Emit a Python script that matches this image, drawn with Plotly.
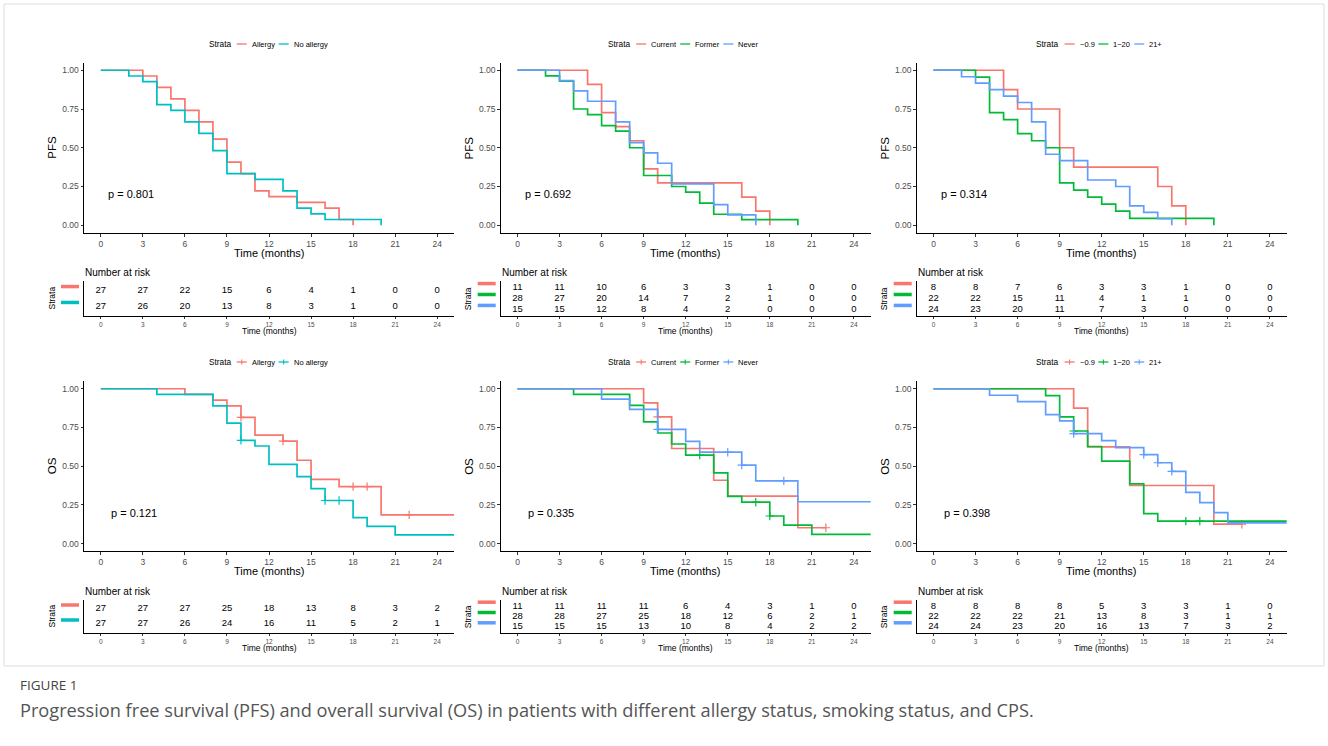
import plotly.graph_objects as go

W, H = 1328, 746
FONT = "Liberation Sans, Arial, Helvetica, sans-serif"
CAP_FONT = "Open Sans, Noto Sans, Liberation Sans, sans-serif"
RED, CYAN, GREEN, BLUE = "#F8766D", "#00BFC4", "#00BA38", "#619CFF"

time_ticks = [0, 3, 6, 9, 12, 15, 18, 21, 24]
surv_ticks = [0, 0.25, 0.5, 0.75, 1.0]
surv_tick_labels = ["0.00", "0.25", "0.50", "0.75", "1.00"]

# ---------------- PFS by allergy ----------------
pfs_allergy_t = [0, 3, 4, 5, 6, 7, 8, 9, 10, 11, 12, 14, 16, 17, 18]
pfs_allergy_s = [1, 0.963, 0.889, 0.815, 0.741, 0.667, 0.556, 0.407, 0.333, 0.222, 0.185, 0.148, 0.111, 0.037, 0]
pfs_noallergy_t = [0, 2, 3, 4, 5, 6, 7, 8, 9, 11, 13, 14, 15, 16, 20]
pfs_noallergy_s = [1, 0.963, 0.926, 0.778, 0.741, 0.667, 0.593, 0.481, 0.333, 0.296, 0.222, 0.111, 0.074, 0.037, 0]
risk_pfs_allergy = [[27, 27, 22, 15, 6, 4, 1, 0, 0], [27, 26, 20, 13, 8, 3, 1, 0, 0]]

# ---------------- PFS by smoking ----------------
pfs_current_t = [0, 5, 6, 7, 8, 9, 10, 16, 17, 18]
pfs_current_s = [1, 0.909, 0.727, 0.636, 0.545, 0.364, 0.273, 0.182, 0.091, 0]
pfs_former_t = [0, 2, 3, 4, 5, 6, 7, 8, 9, 11, 12, 13, 14, 16, 20]
pfs_former_s = [1, 0.964, 0.929, 0.75, 0.714, 0.643, 0.607, 0.5, 0.321, 0.25, 0.214, 0.143, 0.071, 0.036, 0]
pfs_never_t = [0, 3, 4, 5, 7, 8, 9, 10, 11, 14, 15, 17]
pfs_never_s = [1, 0.933, 0.867, 0.8, 0.667, 0.533, 0.467, 0.4, 0.267, 0.133, 0.067, 0]
risk_pfs_smoking = [[11, 11, 10, 6, 3, 3, 1, 0, 0], [28, 27, 20, 14, 7, 2, 1, 0, 0], [15, 15, 12, 8, 4, 2, 0, 0, 0]]

# ---------------- PFS by CPS ----------------
pfs_cps1_t = [0, 5, 6, 9, 10, 16, 17, 18]
pfs_cps1_s = [1, 0.875, 0.75, 0.5, 0.375, 0.25, 0.125, 0]
pfs_cps2_t = [0, 3, 4, 5, 6, 7, 8, 9, 10, 11, 12, 13, 14, 20]
pfs_cps2_s = [1, 0.955, 0.727, 0.682, 0.591, 0.545, 0.5, 0.273, 0.227, 0.182, 0.136, 0.091, 0.045, 0]
pfs_cps3_t = [0, 2, 3, 4, 5, 6, 7, 8, 9, 11, 13, 14, 15, 16, 17]
pfs_cps3_s = [1, 0.958, 0.917, 0.875, 0.833, 0.792, 0.667, 0.458, 0.417, 0.292, 0.25, 0.125, 0.083, 0.042, 0]
risk_pfs_cps = [[8, 8, 7, 6, 3, 3, 1, 0, 0], [22, 22, 15, 11, 4, 1, 1, 0, 0], [24, 23, 20, 11, 7, 3, 0, 0, 0]]

# ---------------- OS by allergy ----------------
os_allergy_t = [0, 6, 8, 9, 10, 11, 13, 14, 15, 17, 20, 26]
os_allergy_s = [1, 0.963, 0.926, 0.889, 0.815, 0.70, 0.662, 0.538, 0.415, 0.368, 0.185, 0.185]
os_allergy_ct = [10, 13, 18, 19, 22]
os_allergy_cs = [0.815, 0.662, 0.368, 0.368, 0.185]
os_noallergy_t = [0, 4, 8, 9, 10, 11, 12, 14, 15, 16, 18, 19, 21, 26]
os_noallergy_s = [1, 0.963, 0.889, 0.778, 0.667, 0.630, 0.511, 0.432, 0.355, 0.278, 0.167, 0.111, 0.056, 0.056]
os_noallergy_ct = [10, 16, 17]
os_noallergy_cs = [0.667, 0.278, 0.278]
risk_os_allergy = [[27, 27, 27, 25, 18, 13, 8, 3, 2], [27, 27, 26, 24, 16, 11, 5, 2, 1]]

# ---------------- OS by smoking ----------------
os_current_t = [0, 9, 10, 11, 14, 15, 20, 22]
os_current_s = [1, 0.909, 0.818, 0.614, 0.409, 0.307, 0.102, 0.102]
os_current_ct = [10, 22]
os_current_cs = [0.818, 0.102]
os_former_t = [0, 4, 8, 9, 10, 11, 12, 14, 15, 16, 18, 19, 21, 26]
os_former_s = [1, 0.964, 0.893, 0.786, 0.714, 0.643, 0.571, 0.457, 0.305, 0.267, 0.178, 0.119, 0.059, 0.059]
os_former_ct = [13, 17, 18]
os_former_cs = [0.571, 0.267, 0.178]
os_never_t = [0, 6, 8, 10, 12, 13, 16, 17, 20, 26]
os_never_s = [1, 0.933, 0.867, 0.738, 0.66, 0.59, 0.507, 0.405, 0.27, 0.27]
os_never_ct = [10, 15, 16, 19]
os_never_cs = [0.738, 0.59, 0.507, 0.405]
risk_os_smoking = [[11, 11, 11, 11, 6, 4, 3, 1, 0], [28, 28, 27, 25, 18, 12, 6, 2, 1], [15, 15, 15, 13, 10, 8, 4, 2, 2]]

# ---------------- OS by CPS ----------------
os_cps1_t = [0, 10, 11, 14, 20, 22]
os_cps1_s = [1, 0.875, 0.625, 0.375, 0.125, 0.125]
os_cps1_ct = [22]
os_cps1_cs = [0.125]
os_cps2_t = [0, 8, 9, 10, 11, 12, 14, 15, 16, 26]
os_cps2_s = [1, 0.955, 0.818, 0.727, 0.627, 0.533, 0.386, 0.193, 0.145, 0.145]
os_cps2_ct = [10, 18, 19]
os_cps2_cs = [0.727, 0.145, 0.145]
os_cps3_t = [0, 4, 6, 8, 9, 10, 12, 13, 15, 16, 17, 18, 19, 20, 21, 26]
os_cps3_s = [1, 0.958, 0.917, 0.833, 0.792, 0.71, 0.665, 0.62, 0.575, 0.522, 0.466, 0.33, 0.265, 0.2, 0.133, 0.133]
os_cps3_ct = [10, 15, 16, 17]
os_cps3_cs = [0.71, 0.575, 0.522, 0.466]
risk_os_cps = [[8, 8, 8, 8, 5, 3, 3, 1, 0], [22, 22, 22, 21, 13, 8, 3, 1, 1], [24, 24, 23, 20, 16, 13, 7, 3, 2]]

allergy_labels = ["Allergy", "No allergy"]
smoking_labels = ["Current", "Former", "Never"]
cps_labels = ["~0.9", "1~20", "21+"]
p_values = ["0.801", "0.692", "0.314", "0.121", "0.335", "0.398"]

caption_title = "FIGURE 1"
caption_text = ("Progression free survival (PFS) and overall survival (OS) in patients with different "
                "allergy status, smoking status, and CPS.")

panels = [
    dict(ylab="PFS", labels=allergy_labels, colors=[RED, CYAN], censor=False, px=0.4,
         curves=[(pfs_allergy_t, pfs_allergy_s, [], []), (pfs_noallergy_t, pfs_noallergy_s, [], [])],
         risk=risk_pfs_allergy),
    dict(ylab="PFS", labels=smoking_labels, colors=[RED, GREEN, BLUE], censor=False, px=0.4,
         curves=[(pfs_current_t, pfs_current_s, [], []), (pfs_former_t, pfs_former_s, [], []),
                 (pfs_never_t, pfs_never_s, [], [])],
         risk=risk_pfs_smoking),
    dict(ylab="PFS", labels=cps_labels, colors=[RED, GREEN, BLUE], censor=False, px=0.4,
         curves=[(pfs_cps1_t, pfs_cps1_s, [], []), (pfs_cps2_t, pfs_cps2_s, [], []),
                 (pfs_cps3_t, pfs_cps3_s, [], [])],
         risk=risk_pfs_cps),
    dict(ylab="OS", labels=allergy_labels, colors=[RED, CYAN], censor=True, px=0.6,
         curves=[(os_allergy_t, os_allergy_s, os_allergy_ct, os_allergy_cs),
                 (os_noallergy_t, os_noallergy_s, os_noallergy_ct, os_noallergy_cs)],
         risk=risk_os_allergy),
    dict(ylab="OS", labels=smoking_labels, colors=[RED, GREEN, BLUE], censor=True, px=0.6,
         curves=[(os_current_t, os_current_s, os_current_ct, os_current_cs),
                 (os_former_t, os_former_s, os_former_ct, os_former_cs),
                 (os_never_t, os_never_s, os_never_ct, os_never_cs)],
         risk=risk_os_smoking),
    dict(ylab="OS", labels=cps_labels, colors=[RED, GREEN, BLUE], censor=True, px=0.6,
         curves=[(os_cps1_t, os_cps1_s, os_cps1_ct, os_cps1_cs),
                 (os_cps2_t, os_cps2_s, os_cps2_ct, os_cps2_cs),
                 (os_cps3_t, os_cps3_s, os_cps3_ct, os_cps3_cs)],
         risk=risk_os_cps),
]

# ---------------- layout geometry (pixels) ----------------
COL_LEFT = [84, 500.7, 916.7]
PLOT_W = 370
KM_ROWS = [(62.5, 233), (381, 551.3)]
RISK_ROWS = [(281, 316), (600, 633)]
LEGEND_Y = [44, 362]
XR = [-1.2, 25.2]

AW = {"S": 667, "t": 278, "r": 333, "a": 556, "A": 667, "l": 222, "e": 556, "g": 556, "y": 500,
      "N": 722, "o": 556, " ": 278, "C": 722, "u": 556, "n": 556, "F": 611, "m": 833, "v": 500,
      "~": 584, ".": 278, "+": 584}


def tw(s, size):
    return sum(AW.get(c, 556) for c in s) / 1000.0 * size


def fx(px):
    return px / W


def fy(py):
    return 1 - py / H


fig = go.Figure()
layout = dict(width=W, height=H, margin=dict(l=0, r=0, t=0, b=0),
              paper_bgcolor="white", plot_bgcolor="white",
              font=dict(family=FONT, color="black"), showlegend=False)
annotations = []
shapes = []

AX_COMMON = dict(showgrid=False, zeroline=False, showline=True, linecolor="black", linewidth=1,
                 ticks="outside", tickcolor="#333333", ticklen=2.5, tickwidth=1)

for i, p in enumerate(panels):
    col, row = i % 3, i // 3
    left = COL_LEFT[col]
    right = left + PLOT_W
    cx = (left + right) / 2
    km_top, km_bot = KM_ROWS[row]
    rk_top, rk_bot = RISK_ROWS[row]
    k, r = i + 1, i + 7
    xk, yk = ("x", "y") if k == 1 else (f"x{k}", f"y{k}")
    xr_, yr_ = f"x{r}", f"y{r}"

    # KM axes
    layout["xaxis" if k == 1 else f"xaxis{k}"] = dict(
        AX_COMMON, domain=[fx(left), fx(right)], range=XR, anchor=yk, tickvals=time_ticks,
        tickfont=dict(size=8.5, color="#4D4D4D"))
    layout["yaxis" if k == 1 else f"yaxis{k}"] = dict(
        AX_COMMON, domain=[fy(km_bot), fy(km_top)], range=[-0.05, 1.05], anchor=xk,
        tickvals=surv_ticks, ticktext=surv_tick_labels, tickfont=dict(size=8.5, color="#4D4D4D"))

    n = len(p["labels"])
    # curves
    for (t, s, ct, cs), color in zip(p["curves"], p["colors"]):
        fig.add_trace(go.Scatter(x=t, y=s, mode="lines", line=dict(color=color, width=1.7, shape="hv"),
                                 xaxis=xk, yaxis=yk, hoverinfo="skip"))
        if ct:
            fig.add_trace(go.Scatter(x=ct, y=cs, mode="markers",
                                     marker=dict(symbol="cross-thin", size=6, color=color,
                                                 line=dict(color=color, width=1.2)),
                                     xaxis=xk, yaxis=yk, hoverinfo="skip", cliponaxis=False))
    # p value
    annotations.append(dict(x=p["px"], y=0.2, xref=xk, yref=yk, text="p = " + p_values[i],
                            showarrow=False, xanchor="left", yanchor="middle",
                            font=dict(size=11, color="black")))
    # axis titles
    annotations.append(dict(x=fx(left - 32), y=fy((km_top + km_bot) / 2), xref="paper", yref="paper",
                            text=p["ylab"], textangle=-90, showarrow=False, xanchor="center",
                            yanchor="middle", font=dict(size=11.5, color="black")))
    annotations.append(dict(x=fx(cx), y=fy(km_bot + 19.5), xref="paper", yref="paper",
                            text="Time (months)", showarrow=False, xanchor="center", yanchor="middle",
                            borderpad=0, font=dict(size=11, color="black")))

    # legend
    title_sz, lab_sz = 8.3, 7.5
    total = tw("Strata", title_sz) + sum(7 + 10 + 5 + tw(lb, lab_sz) for lb in p["labels"])
    x0 = cx - total / 2
    ly = LEGEND_Y[row]
    annotations.append(dict(x=fx(x0), y=fy(ly), xref="paper", yref="paper", text="Strata",
                            showarrow=False, xanchor="left", yanchor="middle", borderpad=0,
                            font=dict(size=title_sz, color="black")))
    xc = x0 + tw("Strata", title_sz) + 7
    for lb, color in zip(p["labels"], p["colors"]):
        shapes.append(dict(type="line", xref="paper", yref="paper", x0=fx(xc), x1=fx(xc + 10),
                           y0=fy(ly), y1=fy(ly), line=dict(color=color, width=1.3)))
        if p["censor"]:
            shapes.append(dict(type="line", xref="paper", yref="paper", x0=fx(xc + 5), x1=fx(xc + 5),
                               y0=fy(ly - 2.5), y1=fy(ly + 2.5), line=dict(color=color, width=1.1)))
        annotations.append(dict(x=fx(xc + 14), y=fy(ly), xref="paper", yref="paper", text=lb,
                                showarrow=False, xanchor="left", yanchor="middle", borderpad=0,
                                font=dict(size=lab_sz, color="black")))
        xc = xc + 14 + tw(lb, lab_sz) + 5

    # risk table axes
    layout[f"xaxis{r}"] = dict(AX_COMMON, domain=[fx(left), fx(right)], range=XR, anchor=yr_,
                               tickvals=time_ticks, ticklen=2, tickfont=dict(size=6.5, color="#4D4D4D"))
    layout[f"yaxis{r}"] = dict(showgrid=False, zeroline=False, showline=True, linecolor="black",
                               linewidth=1, ticks="", showticklabels=False,
                               domain=[fy(rk_bot), fy(rk_top)], range=[0.4, n + 0.6], anchor=xr_)
    for j, vals in enumerate(p["risk"]):
        yv = n - j
        fig.add_trace(go.Scatter(x=time_ticks, y=[yv] * len(vals), mode="text",
                                 text=[str(v) for v in vals], textposition="middle center",
                                 textfont=dict(size=9.5, color="black", family=FONT),
                                 xaxis=xr_, yaxis=yr_, hoverinfo="skip", cliponaxis=False))
        # colour bar standing in for the strata tick label
        row_px = rk_top + (n + 0.6 - yv) * (rk_bot - rk_top) / (n + 0.2)
        shapes.append(dict(type="line", xref="paper", yref="paper", x0=fx(left - 23), x1=fx(left - 5),
                           y0=fy(row_px - 4), y1=fy(row_px - 4),
                           line=dict(color=p["colors"][j], width=3.5)))
    annotations.append(dict(x=fx(left), y=fy(rk_top - 9), xref="paper", yref="paper",
                            text="Number at risk", showarrow=False, xanchor="left", yanchor="middle",
                            borderpad=0, font=dict(size=10, color="black")))
    annotations.append(dict(x=fx(left - 33), y=fy((rk_top + rk_bot) / 2), xref="paper", yref="paper",
                            text="Strata", textangle=-90, showarrow=False, xanchor="center",
                            yanchor="middle", font=dict(size=8.5, color="black")))
    annotations.append(dict(x=fx(cx), y=fy(rk_bot + 15), xref="paper", yref="paper",
                            text="Time (months)", showarrow=False, xanchor="center", yanchor="middle",
                            borderpad=0, font=dict(size=8.5, color="black")))

# caption
annotations.append(dict(x=fx(19), y=fy(685), xref="paper", yref="paper", text=caption_title,
                        showarrow=False, xanchor="left", yanchor="middle", borderpad=0,
                        font=dict(size=13.5, color="#444444", family=CAP_FONT)))
annotations.append(dict(x=fx(19), y=fy(710), xref="paper", yref="paper", text=caption_text,
                        showarrow=False, xanchor="left", yanchor="middle", borderpad=0,
                        font=dict(size=18.2, color="#555555", family=CAP_FONT)))
shapes.append(dict(type="rect", xref="paper", yref="paper", x0=fx(4), x1=fx(1324), y0=fy(4), y1=fy(666),
                   line=dict(color="#DDDDDD", width=1), layer="below"))

layout["annotations"] = annotations
layout["shapes"] = shapes
fig.update_layout(**layout)
fig.write_html("out.html", config={"displayModeBar": False},
               post_script="document.body.style.margin='0px';")
